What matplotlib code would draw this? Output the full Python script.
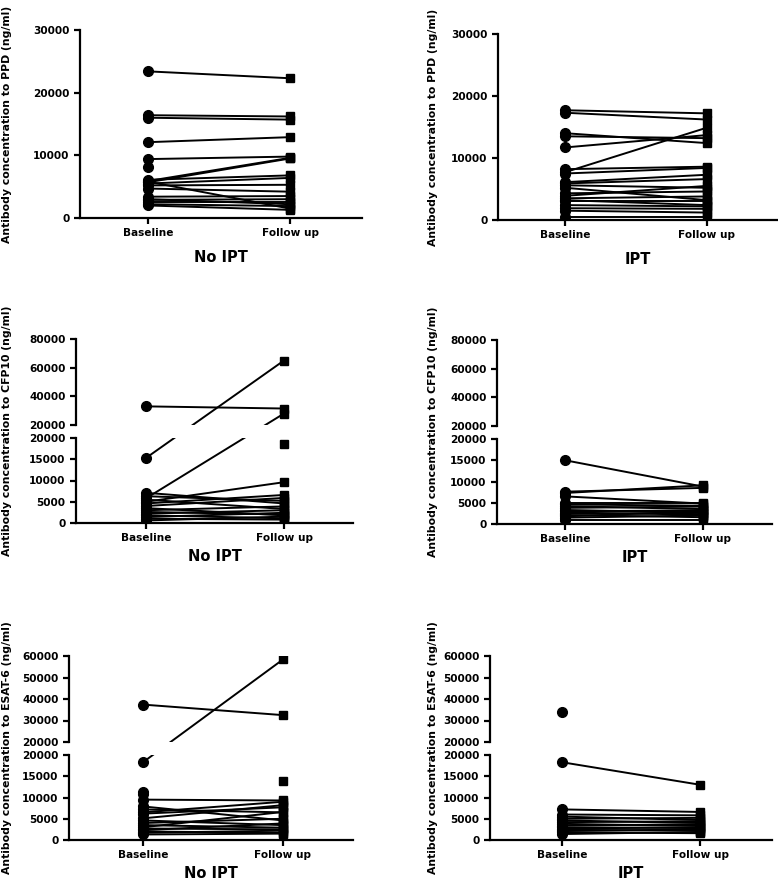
import numpy as np
import matplotlib
matplotlib.use("Agg")
import matplotlib.pyplot as plt

nan = np.nan

# PPD, no IPT / IPT
ppd_noipt_base = [23400, 16400, 16000, 12100, 9400, 8200, 5900, 5700, 6100, 5500, 5200, 4700, 5800, 3400, 2900, 2500, 2200, 2000, 3000]
ppd_noipt_fu   = [22300, 16200, 15700, 12900, 9800, nan, 9600, 9500, 6800, 6400, 5300, 4200, 1500, 3500, 3000, 2500, 1900, 1300, 2200]
ppd_ipt_base = [17700, 17300, 14000, 13500, 11700, 7700, 8200, 7500, 6100, 5900, 5600, 5200, 4300, 3900, 3500, 3200, 3000, 2400, 1900, 1500, 500]
ppd_ipt_fu   = [17200, 16200, 12400, 13200, 13700, 14900, 8600, 8400, 7300, 6600, 5200, 3200, 4600, 5500, 3800, 2400, 3000, 2200, 1800, 1200, 500]

# CFP10
cfp_noipt_base = [33000, 15300, 5800, nan, 5000, 7100, 6300, 5500, 4600, 4000, 3500, 3000, 2600, 2200, 1800, 1400, 1000, 600]
cfp_noipt_fu   = [31500, 65000, 28000, 18700, 9600, 4600, 5200, 3300, 6600, 5900, 1800, 3900, 2000, 3000, 1100, 2400, 800, 1500]
cfp_ipt_base = [15000, 7300, 7600, 6500, 5000, 4600, 4200, 3800, 3300, 3000, 2700, 2400, 2100, 1800, 1500, 1000]
cfp_ipt_fu   = [8800, 9100, 8500, 4800, 5000, 4300, 3500, 4100, 2700, 3200, 2200, 2600, 1600, 3000, 2000, 1000]

# ESAT-6
esat_noipt_base = [37400, 18300, nan, 11400, 10800, 9500, 7900, 7200, 6500, 6200, 5100, 4600, 4000, 3500, 3000, 2700, 2300, 2000, 1700, 1300]
esat_noipt_fu   = [32500, 58400, 14000, nan, nan, 9300, 4600, 6500, 9000, 7700, 8200, 3500, 5000, 2900, 6600, 2500, 3900, 1700, 2200, 1500]
esat_ipt_base = [34000, 18300, 7200, 6000, 5500, 5000, 4600, 4200, 3800, 3400, 3000, 2700, 2400, 2100, 1800, 1400]
esat_ipt_fu   = [nan, 13000, 6600, 5800, 4700, 5200, 4000, 4400, 3300, 3700, 2800, 3000, 2200, 2500, 1600, 1900]

groups = ["Baseline", "Follow up"]

W, H = 778, 881
plt.rcParams['font.family'] = ['DejaVu Sans']
plt.rcParams['font.weight'] = 'bold'
fig = plt.figure(figsize=(W / 100, H / 100), dpi=100)


def rect(l, t, r, b):
    return [l / W, 1 - b / H, (r - l) / W, (b - t) / H]


def style(ax, bottom=True):
    for s in ['top', 'right']:
        ax.spines[s].set_visible(False)
    ax.spines['left'].set_linewidth(1.6)
    ax.spines['bottom'].set_linewidth(1.6)
    ax.tick_params(axis='both', width=1.6, length=4.5, labelsize=7.6, pad=3)
    if not bottom:
        ax.spines['bottom'].set_visible(False)
        ax.tick_params(axis='x', bottom=False, labelbottom=False)


def pairs(ax, base, fu):
    x = np.arange(2)
    for b, f in zip(base, fu):
        ax.plot(x, [b, f], color='black', lw=1.4, zorder=2)
    ax.plot(np.zeros(len(base)), base, 'o', color='black', ms=7, zorder=3)
    ax.plot(np.ones(len(fu)), fu, 's', color='black', ms=6.3, zorder=3)


def set_x(ax, l, r, xb, xf, group, pad):
    s = xf - xb
    ax.set_xlim((l - xb) / s, (r - xb) / s)
    ax.set_xticks([0, 1])
    ax.set_xticklabels(groups)
    ax.set_xlabel(group, fontsize=10.5, fontweight='bold', labelpad=pad)


def simple_panel(l, t, r, b, xb, xf, base, fu, group, ylab, labx):
    ax = fig.add_axes(rect(l, t, r, b))
    pairs(ax, base, fu)
    ax.set_ylim(0, 30000)
    ax.set_yticks([0, 10000, 20000, 30000])
    set_x(ax, l, r, xb, xf, group, 8)
    style(ax)
    fig.text(labx / W, 1 - (t + b) / 2 / H, ylab, rotation=90, ha='center', va='center',
             fontsize=7.8, fontweight='bold')


def broken_panel(l, t, r, b, xb, xf, base, fu, group, ylab, labx, top, upticks):
    B = 20000
    hl, hu, g = 85, 86, 13
    k = (hu / hl) * B / (top - B)
    G = g / hl * B

    def inv(s):
        s = np.asarray(s, dtype=float)
        return np.where(s <= B, s, np.where(s < B + G, B, B + (s - B - G) / k))

    def fwd_low(y):
        y = np.asarray(y, dtype=float)
        return np.where(y <= B, y, B + G + (y - B) * k)

    def fwd_up(y):
        y = np.asarray(y, dtype=float)
        return np.where(y < B, y, B + G + (y - B) * k)

    low = fig.add_axes(rect(l, b - hl, r, b))
    up = fig.add_axes(rect(l, b - hl - g - hu, r, b - hl - g), sharex=low)
    low.set_yscale('function', functions=(fwd_low, inv))
    up.set_yscale('function', functions=(fwd_up, inv))
    for ax in (low, up):
        pairs(ax, base, fu)
    low.set_ylim(0, B)
    low.set_yticks([0, 5000, 10000, 15000, 20000])
    up.set_ylim(B, top)
    up.set_yticks(upticks)
    for ax in (low, up):
        ax.yaxis.set_major_formatter(matplotlib.ticker.FuncFormatter(lambda v, p: f"{v:.0f}"))
        ax.yaxis.set_minor_locator(matplotlib.ticker.NullLocator())
    set_x(low, l, r, xb, xf, group, 4)
    style(low)
    style(up, bottom=False)
    mid = (b - hl - g - hu + b) / 2
    fig.text(labx / W, 1 - mid / H, ylab, rotation=90, ha='center', va='center',
             fontsize=7.8, fontweight='bold')


simple_panel(80, 30, 362, 218, 148, 290, ppd_noipt_base, ppd_noipt_fu, "No IPT",
             "Antibody concentration to PPD (ng/ml)", 7)
simple_panel(498, 34, 778, 220, 565, 707, ppd_ipt_base, ppd_ipt_fu, "IPT",
             "Antibody concentration to PPD (ng/ml)", 433)

broken_panel(76, 339, 353, 523, 146, 284, cfp_noipt_base, cfp_noipt_fu, "No IPT",
             "Antibody concentration to CFP10 (ng/ml)", 7, 80000, [20000, 40000, 60000, 80000])
broken_panel(497, 339, 772, 524, 565, 703, cfp_ipt_base, cfp_ipt_fu, "IPT",
             "Antibody concentration to CFP10 (ng/ml)", 433, 80000, [20000, 40000, 60000, 80000])

broken_panel(69, 655, 353, 840, 143, 283, esat_noipt_base, esat_noipt_fu, "No IPT",
             "Antibody concentration to ESAT-6 (ng/ml)", 7, 60000, [20000, 30000, 40000, 50000, 60000])
broken_panel(490, 657, 772, 840, 562, 700, esat_ipt_base, esat_ipt_fu, "IPT",
             "Antibody concentration to ESAT-6 (ng/ml)", 433, 60000, [20000, 30000, 40000, 50000, 60000])

fig.savefig("out.png", dpi=100)
